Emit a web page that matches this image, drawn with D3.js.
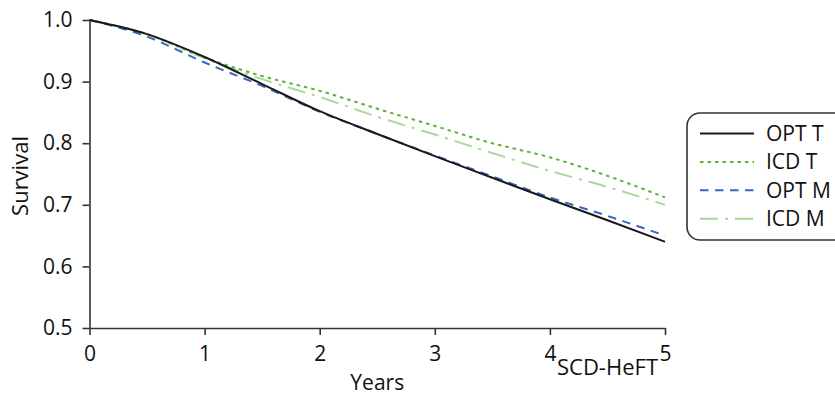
<!DOCTYPE html>
<html>
<head>
<meta charset="utf-8">
<script src="https://cdn.jsdelivr.net/npm/d3@7"></script>
<style>
  html, body { margin: 0; padding: 0; background: #fff; }
  svg { display: block; font-family: "Open Sans", "Noto Sans", sans-serif; }
</style>
</head>
<body>
<svg id="chart" width="835" height="396"></svg>
<script>
// Survival curves, yearly half-step estimates
const years = [0, 0.5, 1, 1.5, 2, 2.5, 3, 3.5, 4, 4.5, 5];
const optT = [1.0, 0.977, 0.940, 0.896, 0.852, 0.815, 0.779, 0.744, 0.709, 0.675, 0.640];
const icdT = [1.0, 0.977, 0.939, 0.909, 0.885, 0.856, 0.828, 0.800, 0.777, 0.747, 0.712];
const optM = [1.0, 0.973, 0.931, 0.893, 0.851, 0.815, 0.780, 0.746, 0.712, 0.682, 0.650];
const icdM = [1.0, 0.977, 0.938, 0.904, 0.875, 0.843, 0.814, 0.784, 0.755, 0.729, 0.700];

const seriesNames = ["OPT T", "ICD T", "OPT M", "ICD M"];
const seriesValues = [optT, icdT, optM, icdM];
const seriesColors = ["#1a1a1a", "#5cb33c", "#3a68bd", "#a9d89c"];
const seriesDash = [null, "3.5,4", "8.5,6.5", "18,7,3,7"];

const xTicks = [0, 1, 2, 3, 4, 5];
const yTicks = [0.5, 0.6, 0.7, 0.8, 0.9, 1.0];

const svg = d3.select("#chart");
const plotLeft = 89.5, plotRight = 665, plotTop = 20, plotBottom = 328;

const x = d3.scaleLinear().domain([0, 5]).range([plotLeft, plotRight]);
const y = d3.scaleLinear().domain([0.5, 1.0]).range([plotBottom, plotTop]);

const axisColor = "#333";
const fontSize = "21px";

// Y axis
const gy = svg.append("g")
  .attr("transform", `translate(${plotLeft},0)`)
  .call(d3.axisLeft(y).tickValues(yTicks).tickFormat(d3.format(".1f"))
    .tickSize(7).tickSizeOuter(0).tickPadding(10));
// X axis
const gx = svg.append("g")
  .attr("transform", `translate(0,${plotBottom})`)
  .call(d3.axisBottom(x).tickValues(xTicks).tickFormat(d3.format("d"))
    .tickSize(7).tickSizeOuter(0).tickPadding(11));

[gx, gy].forEach(g => {
  g.select(".domain").attr("stroke", axisColor).attr("stroke-width", 1.6);
  g.selectAll(".tick line").attr("stroke", axisColor).attr("stroke-width", 1.6);
  g.selectAll(".tick text").attr("fill", "#111")
    .style("font-size", fontSize).style("font-family", "'Open Sans', 'Noto Sans', sans-serif");
});

// Survival lines
const line = d3.line()
  .x((d, i) => x(years[i]))
  .y(d => y(d))
  .curve(d3.curveMonotoneX);

const drawOrder = [3, 1, 2, 0];
drawOrder.forEach(k => {
  svg.append("path")
    .datum(seriesValues[k])
    .attr("d", line)
    .attr("fill", "none")
    .attr("stroke", seriesColors[k])
    .attr("stroke-width", 2)
    .attr("stroke-dasharray", seriesDash[k]);
});

// Axis titles
svg.append("text")
  .attr("x", x(2.5)).attr("y", 390)
  .attr("text-anchor", "middle")
  .attr("fill", "#111").style("font-size", fontSize)
  .text("Years");

svg.append("text")
  .attr("transform", `translate(28,176) rotate(-90)`)
  .attr("text-anchor", "middle")
  .attr("fill", "#111").style("font-size", "22px")
  .text("Survival");

svg.append("text")
  .attr("x", 658).attr("y", 375)
  .attr("text-anchor", "end")
  .attr("fill", "#111").style("font-size", "22px")
  .text("SCD-HeFT");

// Legend
const legend = svg.append("g").attr("transform", "translate(687,113)");
legend.append("rect")
  .attr("x", 0).attr("y", 0)
  .attr("width", 170).attr("height", 127)
  .attr("rx", 13).attr("ry", 13)
  .attr("fill", "#fff").attr("stroke", axisColor).attr("stroke-width", 1.6);

seriesNames.forEach((name, i) => {
  const cy = 20.5 + i * 28.4;
  legend.append("line")
    .attr("x1", 13).attr("x2", 67)
    .attr("y1", cy).attr("y2", cy)
    .attr("stroke", seriesColors[i])
    .attr("stroke-width", 2)
    .attr("stroke-dasharray", seriesDash[i]);
  legend.append("text")
    .attr("x", 79).attr("y", cy)
    .attr("dy", "0.35em")
    .attr("fill", "#111").style("font-size", fontSize)
    .text(name);
});
</script>
</body>
</html>
